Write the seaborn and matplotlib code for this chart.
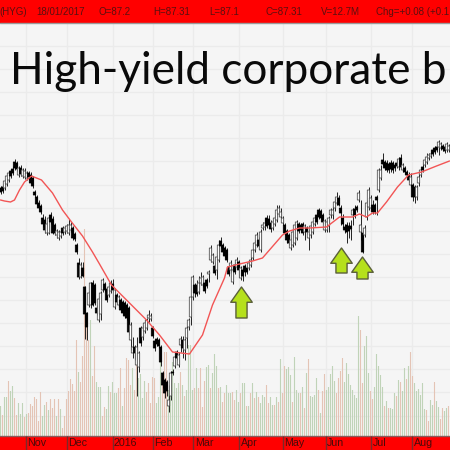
import numpy as np
import pandas as pd
import matplotlib
matplotlib.use("Agg")
import matplotlib.pyplot as plt
import seaborn as sns

# Price levels are in chart points (no price axis is shown in the reference).
body_top = [248,249,255,260,263,265,267,274,273,268, 268,266,265,263,263,261,258,244,239,233,
 230,218,216,212,218,221,217,211,205,204, 204,208,208,210,211,211,208,202,191,173,
 171,168,149,123,143,153,153,151,128,137, 143,156,152,147,149,153,152,146,141,139,
 136,134,133,131,128,111,89,89,89,83, 108,108,113,116,121,120,108,95,97,96,
 89,63,56,54,36,63,64,79,84,81, 97,96,96,108,116,139,159,151,151,153,
 158,159,153,156,164,188,181,170,179,191, 195,191,188,186,169,173,166,171,176,174,
 168,166,170,168,173,176,186,193,201,196, 204,211,213,218,217,213,214,218,226,228,
 224,218,211,205,201,196,204,211,214,212, 211,212,210,208,204,210,214,218,221,226,
 225,221,215,214,218,226,226,234,239,238, 228,218,209,211,210,210,226,227,229,243,
 211,203,208,233,246,238,231,231,239,266, 266,276,274,273,272,273,273,271,273,277,
 278,271,268,264,261,259,251,249,249,259, 266,269,276,279,281,282,286,288,289,294,
 292,290,289,292,290]
body_bottom = [244,245,248,252,256,260,263,268,267,261, 262,260,259,258,259,253,250,241,232,228,
 224,212,206,203,203,214,203,203,201,198, 200,203,204,205,203,206,198,197,184,159,
 159,160,122,109,131,131,131,133,123,116, 122,146,146,136,141,145,146,129,134,131,
 126,123,120,118,104,96,83,83,71,69, 93,99,105,108,118,117,100,88,92,90,
 74,51,43,45,30,40,63,70,78,71, 91,88,86,98,109,119,139,143,142,144,
 153,151,145,150,162,176,174,163,166,176, 190,184,180,176,162,166,154,164,169,166,
 158,160,164,164,168,171,178,186,191,190, 186,208,209,210,211,207,208,212,216,222,
 219,213,203,196,193,188,191,193,198,205, 206,203,204,204,198,201,204,212,214,219,
 218,214,206,206,210,221,221,228,233,231, 223,212,206,204,205,207,221,221,226,236,
 204,184,201,219,229,228,224,224,236,246, 258,272,268,266,266,267,266,268,270,269,
 269,266,264,261,256,251,239,239,239,253, 261,266,271,274,278,280,282,284,286,289,
 288,287,285,286,286]
wick_high = [250,252,257,262,265,267,270,277,275,270, 271,268,268,265,265,264,260,246,241,236,
 232,222,220,214,220,224,220,213,207,206, 207,210,210,212,217,214,210,204,193,178,
 174,174,150,124,145,154,156,153,131,140, 145,158,154,149,151,156,157,148,143,141,
 138,136,135,133,130,114,99,91,99,85, 110,111,116,118,126,123,110,97,99,98,
 91,65,58,56,51,65,67,81,86,84, 100,100,98,110,118,141,161,153,156,160,
 164,161,155,158,166,191,183,174,181,196, 199,193,190,188,172,176,169,174,179,176,
 170,168,172,171,176,179,188,196,204,199, 207,214,218,221,221,216,217,221,231,231,
 228,220,213,207,203,198,206,213,216,214, 213,214,212,210,207,212,216,220,224,228,
 227,223,217,216,220,228,230,238,244,241, 231,222,212,214,214,216,228,231,231,246,
 236,206,211,236,249,241,236,233,241,268, 271,283,276,276,274,276,275,273,276,279,
 282,273,270,266,264,263,253,251,251,262, 268,274,278,283,283,285,288,290,291,296,
 294,292,291,294,292]
wick_low = [242,243,246,250,254,258,261,266,265,259, 260,258,257,256,256,252,248,239,230,226,
 222,209,203,201,202,212,202,201,198,196, 198,201,202,203,201,204,196,195,182,157,
 158,159,97,96,129,128,130,131,121,114, 116,144,144,134,139,143,144,127,132,129,
 124,121,118,116,101,86,78,76,40,64, 90,96,103,106,114,115,98,85,90,88,
 70,48,38,40,24,36,61,68,76,69, 84,78,76,88,106,111,136,139,140,142,
 151,149,143,148,154,174,172,161,157,174, 188,181,178,174,160,164,152,162,167,159,
 156,155,160,162,166,169,176,184,189,187, 184,206,206,208,208,204,206,210,214,220,
 217,211,201,193,191,186,189,191,196,203, 204,201,196,202,186,198,202,210,212,217,
 216,212,204,204,204,218,217,225,231,230, 211,208,203,193,198,196,211,218,224,234,
 196,183,199,216,226,226,222,222,221,244, 256,270,266,264,263,264,263,265,268,266,
 267,264,262,259,254,249,235,233,236,250, 259,264,269,272,276,278,280,282,284,281,
 286,285,283,284,284]
candle_down = ("DDUUUDDDDU" "DUUUDDDDDD" "DDDUUDDDUU" "UDUUUUDDDD" "UDDDUUDDDU"
 "UUDDUUDUDU" "DDDDDUUDUU" "DUUUUUDDDD" "DDDDUUDUDU" "UDUUUUUDDU"
 "UUDDUUUDUU" "DDDDDUUDUD" "UDDDUUUUUD" "UUUDDDUUUU" "UUDDDUUUUD"
 "DDUDUUUUDD" "DDUUUUUUUD" "DDDDDDUDDU" "UDUUUUDDDU" "UDDDDDDDDU"
 "DUDDDUDDUU" "UDUUUUDDDU" "UDDUU")

volume = [30,21,39,39,55,45,50,38,21,33, 22,33,19,22,23,32,30,39,37,15,
 44,20,31,34,26,37,28,37,20,37, 27,8,20,37,45,57,52,45,96,64,
 54,80,207,120,96,116,60,90,54,49, 49,20,29,27,50,44,54,43,43,48,
 68,30,48,78,76,51,68,46,71,58, 62,38,55,44,53,
 33,59,58,33,39,74,61,84,84,46, 59,74,53,48,53,64,51,40,46,91,
 91,46,48,68,48,68,29,55,69,71, 48,63,82,70,48,49,34,43,51,43,
 43,44,36,46,34,43,53,53,30,30, 43,53,38,44,39,33,41,39,51,33,
 39,31,31,39,34,77,43,70,67,69, 61,34,79,46,43,
 43,49,28,63,77,40,39,41,58,46, 23,45,62,46,49,62,70,55,43,58,
 65,78,54,73,62,51,46,41,38,120, 106,53,90,100,63,45,37,49,82,70,
 61,49,30,35,28,28,27,43,40,56, 54,45,68,57,70,84,60,53,45,47,
 41,53,27,26,15,36,31,54,35,29, 17,28,25,28,30]
volume_side = ("gpggpggppg" "ggpgpppppp" "pggpgpppgp" "gppppppppg" "pppppgppgg"
 "gppggpgggp" "pgppppgppg" "gggpp"
 "pppgggpppg" "gggggpgpgg" "ggpgppppgg" "pgggpgppgg" "gppggpggpg"
 "pgpgpgggpp" "ggpgpgppgg" "gpggg"
 "pgpgpgggg p" "gppgggggpp" "ppgggggggg" "ppgggppggg" "ggpgpgggpg"
 "pggpgppggg" "gggppggpgg" "ppggp").replace(" ", "")

sma_session = [0,2,5,7,9.5,12,15.5,20.5,26,31,35.5,41,46,49.5,55.5,59.5,63,73,79.5,86,94.5,101,106,112,113.5,119.5,
 126,131,141,144.5,149.5,154.5,163,169.5,176,179.5,183,186,188.5,193,198.5,204,210.5,218,224.5]
sma_level = [236,235,234,236,246,254,260,256,243,226,214,200,184,172,151,143,136,116,101,84,82,101,131,158,169,172,
 175,178,201,205,208,208,209,219,219,222,219,223,223,234,249,261,264,270,275]

month_labels = ["Nov","Dec","2016","Feb","Mar","Apr","May","Jun","Jul","Aug"]
month_sessions = [12.5,33.3,56,76,96.4,119.3,141,162.5,185.3,205.8]
quote_items = ["(HYG)","18/01/2017","O=87.2","H=87.31","L=87.1","C=87.31","V=12.7M","Chg=+0.08 (+0.1"]
quote_sessions = [-0.4,18,49,76.6,104.6,132.5,160,188]
grid_levels = [20.5,43.6,66.7,89.8,112.9,136,159.1,182.2,205.3,228.4,251.5,274.6,297.7,320.8,343.9,367,390.1]
signal_session = [120.5,170.5,181]
signal_tip = [149,188,179]
signal_tail = [118,163,157]

sns.set_theme(style="white")
plt.rcParams["font.family"] = ["Liberation Sans", "DejaVu Sans"]

vol_df = pd.DataFrame({"session": np.arange(len(volume)), "volume": volume, "side": list(volume_side)})
candles = pd.DataFrame({"session": np.arange(len(body_top)), "top": body_top, "bottom": body_bottom,
                        "high": wick_high, "low": wick_low, "side": list(candle_down)})

fig = plt.figure(figsize=(4.5, 4.5), dpi=100, facecolor="#f5f5f5")
ax = fig.add_axes([0, 0, 1, 1], facecolor="#f5f5f5")

sns.barplot(data=vol_df, x="session", y="volume", hue="side", native_scale=True, dodge=False,
            palette={"g": "#c0d3b8", "p": "#e4c4b5"}, width=0.56, saturation=1, legend=False,
            ax=ax, zorder=2, linewidth=0)
for patch in ax.patches:
    patch.set_snap(False)

ax.vlines(candles["session"], candles["low"], candles["high"], color="#222222", lw=0.7, zorder=3)
is_down = candles["side"] == "D"
body_bars = ax.bar(candles["session"], candles["top"] - candles["bottom"], bottom=candles["bottom"], width=1.2,
       color=np.where(is_down, "#000000", "#ffffff"), edgecolor=np.where(is_down, "#000000", "#444444"),
       linewidth=0.55, zorder=4)
for patch in body_bars:
    patch.set_snap(False)

sns.lineplot(x=sma_session, y=sma_level, color="#f25555", lw=1.0, ax=ax, zorder=5, sort=False, errorbar=None)

for s, tip, tail in zip(signal_session, signal_tip, signal_tail):
    ax.annotate("", xy=(s, tip), xytext=(s, tail), zorder=6,
                arrowprops=dict(width=8, headwidth=15.5, headlength=11, shrink=0,
                                facecolor="#b5e01c", edgecolor="#5a5f3a", linewidth=1))

ax.set_xlim(-0.25, 224.75)
ax.set_ylim(-14, 436)
ax.set_xticks(month_sessions)
ax.set_yticks(grid_levels)
ax.set_xticklabels([])
ax.set_yticklabels([])
ax.set_xlabel("")
ax.set_ylabel("")
ax.tick_params(length=0)
ax.grid(True, color="#ebebeb", lw=1.0)
ax.set_axisbelow(True)
for sp in ax.spines.values():
    sp.set_visible(False)

ax.axhspan(413.5, 436, color="#ff0000", zorder=7, lw=0)
ax.axhline(413, color="#9a9a9a", lw=1, zorder=7)
ax.axhspan(-14, 0, color="#ff0000", zorder=7, lw=0)
ax.axhline(0, color="#8a5a5a", lw=1, zorder=7)
ax.vlines(month_sessions, -14, 0, color="#7a2a2a", lw=1, zorder=8)

for s, lab in zip(month_sessions, month_labels):
    ax.text(s + 0.7, -7, lab, color="#4a0a0a", fontsize=7.7, va="center", ha="left", zorder=9)
for s, lab in zip(quote_sessions, quote_items):
    ax.text(s, 424, lab, color="#5a1010", fontsize=7.0, va="center", ha="left", zorder=9)

ax.text(4.8, 352, "High-yield corporate b", color="#0a0a0a", fontsize=31.8, family=["Lato", "DejaVu Sans"],
        va="baseline", ha="left", zorder=9)

fig.savefig("out.png", dpi=100, facecolor=fig.get_facecolor())
